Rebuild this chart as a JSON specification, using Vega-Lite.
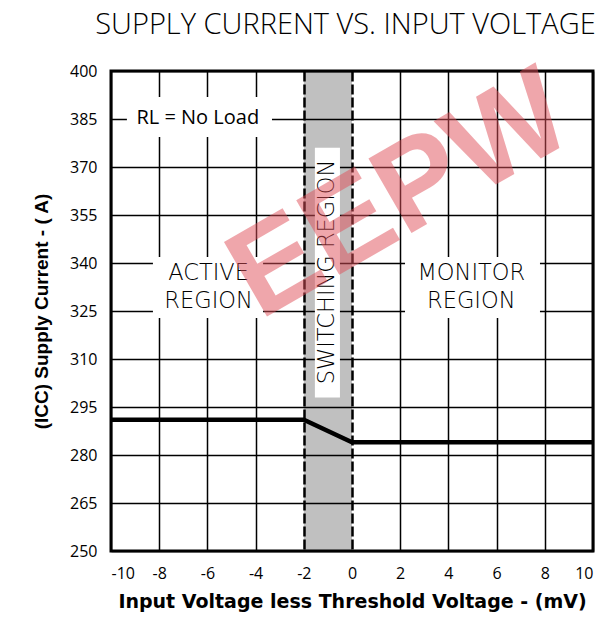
{
  "$schema": "https://vega.github.io/schema/vega-lite/v6.json",
  "width": 482,
  "height": 480,
  "autosize": {"type": "none"},
  "padding": {"left": 111, "top": 71, "right": 7, "bottom": 75},
  "background": "white",
  "config": {
    "view": {"stroke": "black", "strokeWidth": 3},
    "axis": {"ticks": false, "domain": false, "labelFont": "Open Sans", "labelFontSize": 16, "labelColor": "black", "titleFont": "Liberation Sans", "titleFontSize": 19, "titleFontWeight": "bold", "titleColor": "black", "gridColor": "black", "gridOpacity": 1, "labelExpr": "'' + datum.value"}
  },
  "resolve": {"axis": {"x": "independent"}},
  "datasets": {
    "band": [{"x1": -2, "x2": 0}],
    "curve": [{"v": -10, "i": 291}, {"v": -2, "i": 291}, {"v": 0, "i": 284}, {"v": 10, "i": 284}],
    "boxes": [
      {"x1": -9.34, "x2": -3.32, "y1": 391.9, "y2": 379.4},
      {"x1": -8.26, "x2": -3.69, "y1": 341.9, "y2": 322.8},
      {"x1": 2.2, "x2": 7.8, "y1": 341.9, "y2": 322.8},
      {"x1": -1.54, "x2": -0.5, "y1": 376, "y2": 298}
    ],
    "labels": [
      {"x": -6.4, "y": 385.3, "t": "RL = No Load"}
    ],
    "regions": [
      {"x": -5.95, "y": 337, "t": "ACTIVE"},
      {"x": -5.95, "y": 328, "t": "REGION"},
      {"x": 4.95, "y": 337, "t": "MONITOR"},
      {"x": 4.95, "y": 328, "t": "REGION"}
    ],
    "vlabel": [{"x": -1.04, "y": 337.2, "t": "SWITCHING REGION"}],
    "mark": [{"x": 2.0, "y": 361, "t": "EEPW"}]
  },
  "layer": [
    {
      "data": {"name": "band"},
      "mark": {"type": "rect", "fill": "black", "fillOpacity": 0.247},
      "encoding": {
        "x": {"field": "x1", "type": "quantitative", "scale": {"domain": [-10, 10], "nice": false, "zero": false},
          "axis": {"orient": "bottom", "values": [-10, -8, -6, -4, -2, 0, 2, 4, 6, 8, 10], "title": "Input Voltage less Threshold Voltage - (mV)", "titleFont": "DejaVu Sans", "titleFontSize": 19, "labelPadding": 14, "titlePadding": 11, "grid": true,
            "gridDash": {"condition": {"test": "datum.value == -2 || datum.value == 0", "value": [10, 3]}, "value": []},
            "gridWidth": {"condition": {"test": "datum.value == -2 || datum.value == 0", "value": 2.5}, "value": 1.5}}},
        "x2": {"field": "x2"},
        "y": {"datum": 250, "type": "quantitative", "scale": {"domain": [250, 400], "nice": false, "zero": false},
          "axis": {"values": [250, 265, 280, 295, 310, 325, 340, 355, 370, 385, 400], "title": "(ICC) Supply Current - ( A)", "labelPadding": 14, "titlePadding": 18, "grid": true, "gridWidth": 1.5}},
        "y2": {"datum": 400}
      }
    },
    {
      "data": {"name": "boxes"},
      "mark": {"type": "rect", "fill": "white"},
      "encoding": {
        "x": {"field": "x1", "type": "quantitative",
          "axis": {"orient": "top", "labels": false, "grid": false, "title": "SUPPLY CURRENT VS. INPUT VOLTAGE", "titleFont": "Open Sans", "titleFontSize": 29, "titleFontWeight": 300, "titleBaseline": "alphabetic", "titlePadding": 38, "titleX": 234}},
        "x2": {"field": "x2"},
        "y": {"field": "y1", "type": "quantitative"},
        "y2": {"field": "y2"}
      }
    },
    {
      "data": {"name": "curve"},
      "mark": {"type": "line", "color": "black", "strokeWidth": 4.5},
      "encoding": {
        "x": {"field": "v", "type": "quantitative", "axis": null},
        "y": {"field": "i", "type": "quantitative"}
      }
    },
    {
      "data": {"name": "labels"},
      "mark": {"type": "text", "font": "Open Sans", "fontSize": 20, "color": "black", "baseline": "middle", "align": "center"},
      "encoding": {
        "x": {"field": "x", "type": "quantitative", "axis": null},
        "y": {"field": "y", "type": "quantitative"},
        "text": {"field": "t"}
      }
    },
    {
      "data": {"name": "regions"},
      "mark": {"type": "text", "font": "DejaVu Sans", "fontSize": 22.5, "fontWeight": 300, "color": "black", "baseline": "middle", "align": "center"},
      "encoding": {
        "x": {"field": "x", "type": "quantitative", "axis": null},
        "y": {"field": "y", "type": "quantitative"},
        "text": {"field": "t"}
      }
    },
    {
      "data": {"name": "vlabel"},
      "mark": {"type": "text", "font": "DejaVu Sans", "fontSize": 22.5, "fontWeight": 300, "color": "black", "baseline": "middle", "align": "center", "angle": 270},
      "encoding": {
        "x": {"field": "x", "type": "quantitative", "axis": null},
        "y": {"field": "y", "type": "quantitative"},
        "text": {"field": "t"}
      }
    },
    {
      "data": {"name": "mark"},
      "mark": {"type": "text", "font": "Liberation Sans", "fontSize": 125, "fontWeight": "bold", "color": "#e0505a", "opacity": 0.5, "baseline": "middle", "align": "center", "angle": 330},
      "encoding": {
        "x": {"field": "x", "type": "quantitative", "axis": null},
        "y": {"field": "y", "type": "quantitative"},
        "text": {"field": "t"}
      }
    }
  ]
}
